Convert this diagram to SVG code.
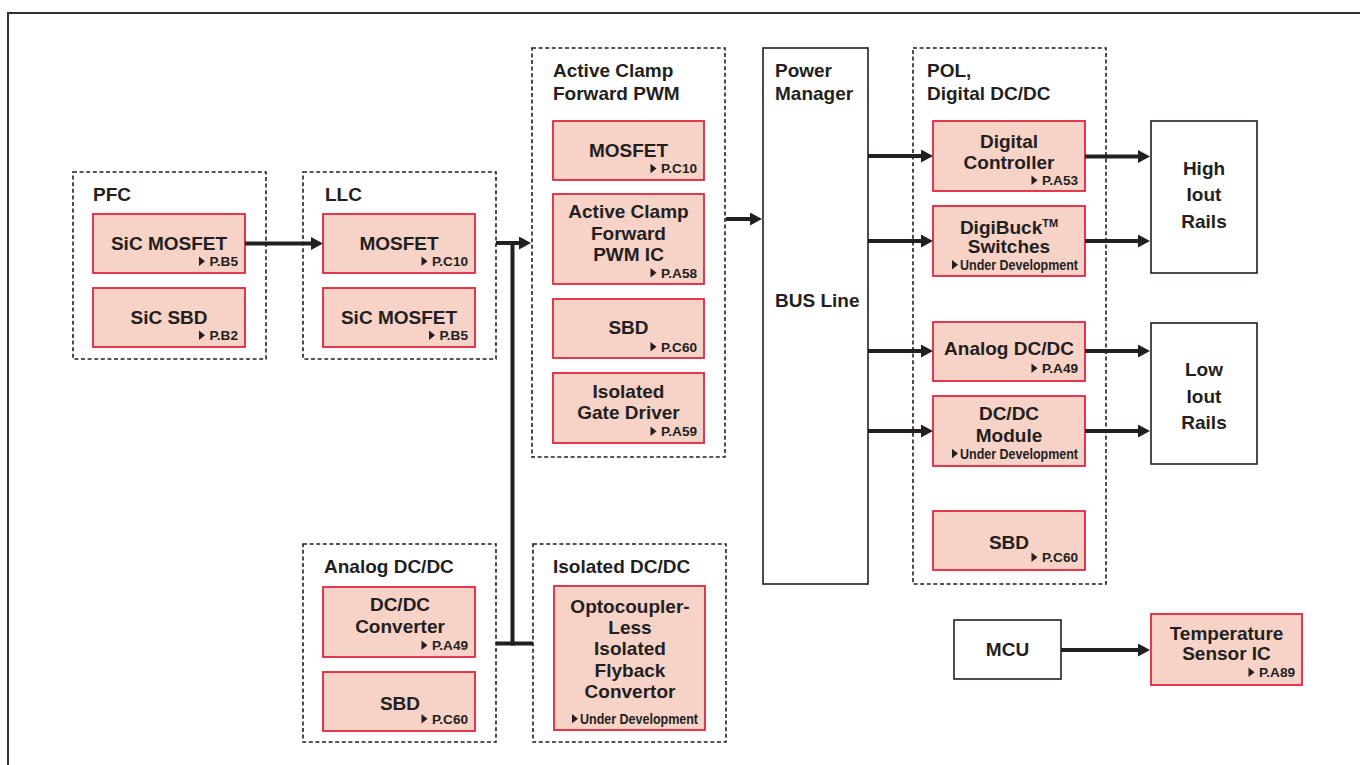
<svg xmlns="http://www.w3.org/2000/svg" width="1360" height="765" viewBox="0 0 1360 765">
<style>
.bg{fill:#ffffff}
.frame{fill:none;stroke:#333132;stroke-width:2}
.grp{fill:#ffffff;stroke:#231f20;stroke-width:1.6;stroke-dasharray:4 2.6}
.node{fill:#f7d2c7;stroke:#e1253f;stroke-width:1.8}
.box{fill:#ffffff;stroke:#231f20;stroke-width:1.6}
.t{font-family:"Liberation Sans",Arial,Helvetica,sans-serif;font-weight:bold;font-size:19px;fill:#231f20}
.c{text-anchor:middle}
.r{font-family:"Liberation Sans",Arial,Helvetica,sans-serif;font-weight:bold;font-size:13.6px;fill:#231f20;text-anchor:end}
.u{font-family:"Liberation Sans",Arial,Helvetica,sans-serif;font-weight:bold;font-size:14px;fill:#231f20}
.tri{fill:#231f20}
.con{fill:none;stroke:#231f20;stroke-width:4}
.arr{marker-end:url(#ah)}
</style>
<defs>
<marker id="ah" markerUnits="userSpaceOnUse" markerWidth="13" markerHeight="13" refX="2" refY="6.5" orient="auto">
<path d="M0,0 L12,6.5 L0,13 z" fill="#231f20"/>
</marker>
</defs>
<rect class="bg" x="0" y="0" width="1360" height="765"/>
<path class="frame" d="M8,765 V13 H1360"/>

<g id="pfc">
<rect class="grp" x="73" y="172" width="193" height="187"/>
<text class="t" x="93" y="201">PFC</text>
</g>
<g id="pfc-sic-mosfet">
<rect class="node" x="93" y="214" width="152" height="59"/>
<text class="t c" x="169" y="250">SiC MOSFET</text>
<polygon class="tri" points="199,256.5 205,261.3 199,266"/>
<text class="r" x="238" y="266">P.B5</text>
</g>
<g id="pfc-sic-sbd">
<rect class="node" x="93" y="288" width="152" height="59"/>
<text class="t c" x="169" y="323.5">SiC SBD</text>
<polygon class="tri" points="199,330.5 205,335.3 199,340"/>
<text class="r" x="238" y="340">P.B2</text>
</g>

<g id="llc">
<rect class="grp" x="303" y="172" width="193" height="187"/>
<text class="t" x="325" y="201">LLC</text>
</g>
<g id="llc-mosfet">
<rect class="node" x="323" y="214" width="152" height="59"/>
<text class="t c" x="399" y="250">MOSFET</text>
<polygon class="tri" points="421.5,256.5 427.5,261.3 421.5,266"/>
<text class="r" x="468" y="266">P.C10</text>
</g>
<g id="llc-sic-mosfet">
<rect class="node" x="323" y="288" width="152" height="59"/>
<text class="t c" x="399" y="323.5">SiC MOSFET</text>
<polygon class="tri" points="429,330.5 435,335.3 429,340"/>
<text class="r" x="468" y="340">P.B5</text>
</g>

<g id="active-clamp">
<rect class="grp" x="532" y="48" width="193" height="409"/>
<text class="t" x="553" y="77">Active Clamp</text>
<text class="t" x="553" y="100">Forward PWM</text>
</g>
<g id="ac-mosfet">
<rect class="node" x="553" y="121" width="151" height="59"/>
<text class="t c" x="628.5" y="157">MOSFET</text>
<polygon class="tri" points="650.5,163.8 656.5,168.6 650.5,173.3"/>
<text class="r" x="697" y="173.3">P.C10</text>
</g>
<g id="ac-pwm-ic">
<rect class="node" x="553" y="194" width="151" height="90"/>
<text class="t c" x="628.5" y="218">Active Clamp</text>
<text class="t c" x="628.5" y="239.5">Forward</text>
<text class="t c" x="628.5" y="260.5">PWM IC</text>
<polygon class="tri" points="650.5,268 656.5,272.8 650.5,277.5"/>
<text class="r" x="697" y="277.5">P.A58</text>
</g>
<g id="ac-sbd">
<rect class="node" x="553" y="299" width="151" height="59"/>
<text class="t c" x="628.5" y="334">SBD</text>
<polygon class="tri" points="650.5,342 656.5,346.8 650.5,351.5"/>
<text class="r" x="697" y="351.5">P.C60</text>
</g>
<g id="ac-gate-driver">
<rect class="node" x="553" y="373" width="151" height="70"/>
<text class="t c" x="628.5" y="397.5">Isolated</text>
<text class="t c" x="628.5" y="418.5">Gate Driver</text>
<polygon class="tri" points="650.5,426.5 656.5,431.3 650.5,436"/>
<text class="r" x="697" y="436">P.A59</text>
</g>

<g id="power-manager">
<rect class="box" x="763" y="48" width="105" height="536"/>
<text class="t" x="775" y="77">Power</text>
<text class="t" x="775" y="100">Manager</text>
<text class="t" x="775" y="307">BUS Line</text>
</g>

<g id="pol">
<rect class="grp" x="913" y="48" width="193" height="536"/>
<text class="t" x="927" y="77">POL,</text>
<text class="t" x="927" y="100">Digital DC/DC</text>
</g>
<g id="pol-digital-controller">
<rect class="node" x="933" y="121" width="152" height="70"/>
<text class="t c" x="1009" y="147.5">Digital</text>
<text class="t c" x="1009" y="168.5">Controller</text>
<polygon class="tri" points="1031.5,175.5 1037.5,180.3 1031.5,185"/>
<text class="r" x="1078" y="185">P.A53</text>
</g>
<g id="pol-digibuck">
<rect class="node" x="933" y="206" width="152" height="70"/>
<text class="t c" x="1009" y="233.5">DigiBuck<tspan font-size="11" dy="-7">TM</tspan></text>
<text class="t c" x="1009" y="253">Switches</text>
<polygon class="tri" points="952,260 958,264.8 952,269.5"/>
<text class="u" x="960" y="270" textLength="118" lengthAdjust="spacingAndGlyphs">Under Development</text>
</g>
<g id="pol-analog">
<rect class="node" x="933" y="322" width="152" height="59"/>
<text class="t c" x="1009" y="355">Analog DC/DC</text>
<polygon class="tri" points="1031.5,363.5 1037.5,368.3 1031.5,373"/>
<text class="r" x="1078" y="373">P.A49</text>
</g>
<g id="pol-module">
<rect class="node" x="933" y="396" width="152" height="70"/>
<text class="t c" x="1009" y="420">DC/DC</text>
<text class="t c" x="1009" y="441.5">Module</text>
<polygon class="tri" points="952,448.7 958,453.5 952,458.2"/>
<text class="u" x="960" y="458.5" textLength="118" lengthAdjust="spacingAndGlyphs">Under Development</text>
</g>
<g id="pol-sbd">
<rect class="node" x="933" y="511" width="152" height="59"/>
<text class="t c" x="1009" y="548.5">SBD</text>
<polygon class="tri" points="1031.5,552.5 1037.5,557.3 1031.5,562"/>
<text class="r" x="1078" y="562">P.C60</text>
</g>

<g id="high-iout-rails">
<rect class="box" x="1151" y="121" width="106" height="152"/>
<text class="t c" x="1204" y="175">High</text>
<text class="t c" x="1204" y="201">Iout</text>
<text class="t c" x="1204" y="227.5">Rails</text>
</g>
<g id="low-iout-rails">
<rect class="box" x="1151" y="323" width="106" height="141"/>
<text class="t c" x="1204" y="376">Low</text>
<text class="t c" x="1204" y="403">Iout</text>
<text class="t c" x="1204" y="429">Rails</text>
</g>

<g id="mcu">
<rect class="box" x="954" y="620" width="107" height="59"/>
<text class="t c" x="1007.5" y="656">MCU</text>
</g>
<g id="temp-sensor">
<rect class="node" x="1151" y="614" width="151" height="71"/>
<text class="t c" x="1226.5" y="640">Temperature</text>
<text class="t c" x="1226.5" y="660">Sensor IC</text>
<polygon class="tri" points="1248.5,667.5 1254.5,672.3 1248.5,677"/>
<text class="r" x="1295" y="677">P.A89</text>
</g>

<g id="analog-dcdc">
<rect class="grp" x="303" y="544" width="193" height="198"/>
<text class="t" x="324" y="573">Analog DC/DC</text>
</g>
<g id="an-dcdc-converter">
<rect class="node" x="323" y="587" width="152" height="70"/>
<text class="t c" x="400" y="611">DC/DC</text>
<text class="t c" x="400" y="632.5">Converter</text>
<polygon class="tri" points="421.5,640.5 427.5,645.3 421.5,650"/>
<text class="r" x="468" y="650">P.A49</text>
</g>
<g id="an-sbd">
<rect class="node" x="323" y="672" width="152" height="59"/>
<text class="t c" x="400" y="710">SBD</text>
<polygon class="tri" points="421.5,714 427.5,718.8 421.5,723.5"/>
<text class="r" x="468" y="723.5">P.C60</text>
</g>

<g id="isolated-dcdc">
<rect class="grp" x="533" y="544" width="193" height="198"/>
<text class="t" x="553" y="573">Isolated DC/DC</text>
</g>
<g id="iso-flyback">
<rect class="node" x="554" y="586" width="151" height="144"/>
<text class="t c" x="630" y="612.5">Optocoupler-</text>
<text class="t c" x="630" y="633.5">Less</text>
<text class="t c" x="630" y="655">Isolated</text>
<text class="t c" x="630" y="676.5">Flyback</text>
<text class="t c" x="630" y="697.5">Convertor</text>
<polygon class="tri" points="572,714 578,718.8 572,723.3"/>
<text class="u" x="580" y="723.5" textLength="118" lengthAdjust="spacingAndGlyphs">Under Development</text>
</g>

<g id="connectors">
<line class="con arr" x1="245" y1="243.5" x2="313" y2="243.5"/>
<line class="con arr" x1="496" y1="243" x2="521" y2="243"/>
<line class="con" x1="512.5" y1="241" x2="512.5" y2="645.5"/>
<line class="con" x1="496" y1="643.5" x2="533" y2="643.5"/>
<line class="con arr" x1="726" y1="219" x2="752" y2="219"/>
<line class="con arr" x1="868" y1="156" x2="923" y2="156"/>
<line class="con arr" x1="868" y1="241" x2="923" y2="241"/>
<line class="con arr" x1="868" y1="351" x2="923" y2="351"/>
<line class="con arr" x1="868" y1="431" x2="923" y2="431"/>
<line class="con arr" x1="1085" y1="156.5" x2="1140" y2="156.5"/>
<line class="con arr" x1="1085" y1="241" x2="1140" y2="241"/>
<line class="con arr" x1="1085" y1="351" x2="1140" y2="351"/>
<line class="con arr" x1="1085" y1="431" x2="1140" y2="431"/>
<line class="con arr" x1="1061" y1="650" x2="1140" y2="650"/>
</g>
</svg>
